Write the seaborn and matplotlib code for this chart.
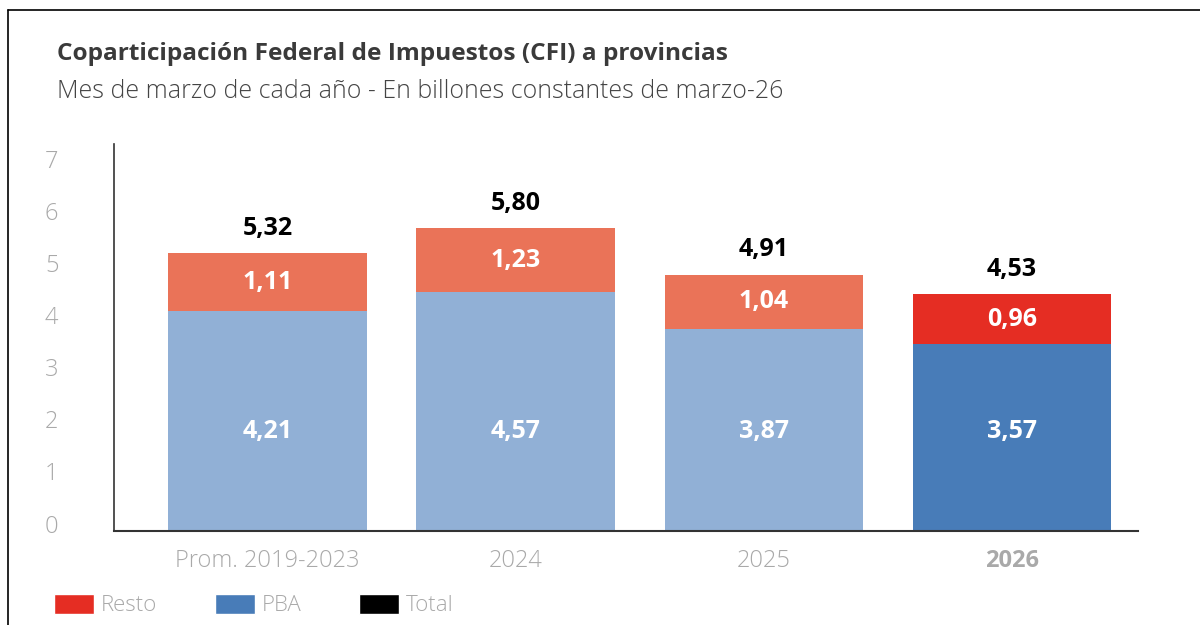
import matplotlib
matplotlib.use("Agg")
import matplotlib.pyplot as plt
import matplotlib.transforms as mtransforms
from matplotlib.lines import Line2D
from matplotlib.patches import Patch
import seaborn as sns
import pandas as pd

categories = ["Prom. 2019-2023", "2024", "2025", "2026"]
pba = [4.21, 4.57, 3.87, 3.57]
resto = [1.11, 1.23, 1.04, 0.96]
total = [5.32, 5.80, 4.91, 4.53]
yticks = [0, 1, 2, 3, 4, 5, 6, 7]

RED = "#E52D23"
RED_LIGHT = "#EA7358"
BLUE = "#487CB8"
BLUE_LIGHT = "#91B0D6"
GRAY_TXT = "#A9A9A9"

sns.set_theme(style="white")
plt.rcParams["font.family"] = ["Open Sans", "DejaVu Sans"]

df = pd.DataFrame({"cat": categories, "pba": pba, "resto": resto, "total": total})
df["stack"] = df["pba"] + df["resto"]

fig = plt.figure(figsize=(12, 6.25), dpi=100)
ax = fig.add_axes([0.095, 0.151, 0.853, 0.619])

resto_pal = {c: (RED if c == "2026" else RED_LIGHT) for c in categories}
pba_pal = {c: (BLUE if c == "2026" else BLUE_LIGHT) for c in categories}

sns.barplot(data=df, x="cat", y="stack", hue="cat", palette=resto_pal,
            order=categories, width=0.8, legend=False, ax=ax, saturation=1, linewidth=0)
sns.barplot(data=df, x="cat", y="pba", hue="cat", palette=pba_pal,
            order=categories, width=0.8, legend=False, ax=ax, saturation=1, linewidth=0)

for i, row in df.iterrows():
    ax.text(i, 1.9, f"{row.pba:.2f}".replace(".", ","), ha="center", va="center",
            color="white", fontsize=18, fontweight="bold")
    ax.text(i, row.pba + row.resto / 2, f"{row.resto:.2f}".replace(".", ","),
            ha="center", va="center", color="white", fontsize=18, fontweight="bold")
    ax.text(i, row.stack + 0.48, f"{row.total:.2f}".replace(".", ","),
            ha="center", va="center", color="black", fontsize=18, fontweight="bold")

ax.set_ylim(0, 7.42)
ax.set_xlim(-0.618, 3.506)
ax.set_yticks(yticks)
ax.set_yticklabels([str(t) for t in yticks])
ax.set_xlabel("")
ax.set_ylabel("")
ax.tick_params(axis="y", length=0, pad=40, labelsize=17, labelcolor=GRAY_TXT)
ax.tick_params(axis="x", length=0, pad=13, labelsize=17, labelcolor=GRAY_TXT)
for lab in ax.get_yticklabels():
    lab.set_fontweight("light")
    lab.set_transform(lab.get_transform() + mtransforms.ScaledTranslation(0, 7 / 100, fig.dpi_scale_trans))
for lab in ax.get_xticklabels():
    lab.set_fontweight("bold" if lab.get_text() == "2026" else "light")

for s in ["top", "right"]:
    ax.spines[s].set_visible(False)
ax.spines["left"].set_color("#333333")
ax.spines["bottom"].set_color("#333333")
ax.spines["left"].set_linewidth(1.2)
ax.spines["bottom"].set_linewidth(1.5)

fig.text(57 / 1200, 1 - 54 / 625, "Coparticipación Federal de Impuestos (CFI) a provincias",
         fontsize=17.6, fontweight="bold", color="#3A3A3A", va="center", ha="left")
fig.text(57 / 1200, 1 - 92 / 625, "Mes de marzo de cada año - En billones constantes de marzo-26",
         fontsize=17.9, fontweight="light", color="#444444", va="center", ha="left")

handles = [Patch(facecolor=RED, label="Resto"), Patch(facecolor=BLUE, label="PBA"),
           Patch(facecolor="black", label="Total")]
leg = fig.legend(handles=handles, loc="center left", bbox_to_anchor=(45 / 1200, 1 - 605 / 625),
                 ncol=3, frameon=False, fontsize=16, handlelength=1.8, handleheight=1.0,
                 columnspacing=2.6, handletextpad=0.3, borderaxespad=0)
for t in leg.get_texts():
    t.set_color(GRAY_TXT)
    t.set_fontweight("light")

fig.add_artist(Line2D([8 / 1200, 8 / 1200], [0, 1 - 10 / 625], transform=fig.transFigure,
                      color="black", linewidth=1.2))
fig.add_artist(Line2D([8 / 1200, 1], [1 - 10 / 625, 1 - 10 / 625], transform=fig.transFigure,
                      color="black", linewidth=1.2))

fig.savefig("out.png", dpi=100)
